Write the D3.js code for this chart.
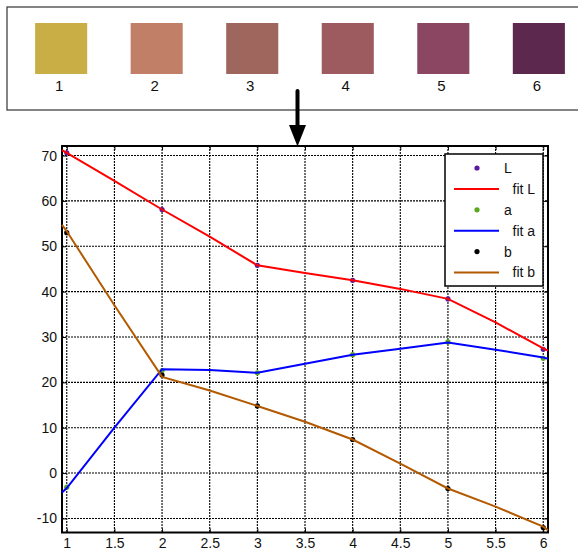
<!DOCTYPE html>
<html>
<head>
<meta charset="utf-8">
<script src="https://d3js.org/d3.v7.min.js"></script>
<style>
  body { margin: 0; background: #fff; }
  text { font-family: "Liberation Sans", Arial, sans-serif; fill: #111; }
</style>
</head>
<body>
<div id="chart"></div>
<script>
// colour swatches on top
var swatchLabels = ["1", "2", "3", "4", "5", "6"];
var swatchColors = ["#c8ae45", "#c27f68", "#9e665c", "#9d5b60", "#8b4662", "#5c284d"];

// measured points
var xVals = [1, 2, 3, 4, 5, 6];
var lVals = [70.6, 58.1, 45.8, 42.5, 38.4, 27.3];
var aVals = [-3.1, 22.6, 22.1, 26.1, 28.9, 25.3];
var bVals = [53.0, 21.6, 14.8, 7.4, -3.4, -12.0];

var fitX = [0.95, 1, 1.5, 2, 2.5, 3, 3.5, 4, 4.5, 5, 5.5, 6, 6.05];
var fitL = [71.2, 70.6, 64.4, 58.1, 52.1, 45.8, 44.1, 42.5, 40.6, 38.4, 33.2, 27.5, 27.0];
var fitA = [-4.3, -3.3, 10.0, 22.9, 22.7, 22.1, 24.1, 26.1, 27.4, 28.8, 27.2, 25.5, 25.2];
var fitB = [54.7, 53.3, 37.0, 21.2, 18.2, 14.8, 11.3, 7.4, 2.1, -3.4, -7.4, -11.8, -12.6];

var xTicks = [1, 1.5, 2, 2.5, 3, 3.5, 4, 4.5, 5, 5.5, 6];
var yTicks = [-10, 0, 10, 20, 30, 40, 50, 60, 70];

var W = 578, H = 553;
var svg = d3.select("#chart").append("svg")
    .attr("width", W).attr("height", H);

svg.append("rect").attr("width", W).attr("height", H).attr("fill", "#fff");

// top panel
svg.append("rect")
    .attr("x", 7).attr("y", 7).attr("width", 640).attr("height", 103)
    .attr("fill", "#fff").attr("stroke", "#333").attr("stroke-width", 1.2);

var sx = d3.scaleBand().domain(swatchLabels).range([16, 584]).paddingInner(0.455).paddingOuter(0.2);
svg.selectAll(".sw").data(swatchLabels).join("rect")
    .attr("class", "sw")
    .attr("x", d => sx(d))
    .attr("y", 23)
    .attr("width", sx.bandwidth())
    .attr("height", 51)
    .attr("fill", (d, i) => swatchColors[i]);
svg.selectAll(".swl").data(swatchLabels).join("text")
    .attr("class", "swl")
    .attr("x", d => sx(d) + sx.bandwidth() / 2 - 2)
    .attr("y", 86)
    .attr("dy", "0.35em")
    .attr("text-anchor", "middle")
    .attr("font-size", "15px")
    .text(d => d);

// plot area
var pLeft = 62, pRight = 548, pTop = 146, pBottom = 532.5;
var x = d3.scaleLinear().domain([0.95, 6.05]).range([pLeft, pRight]);
var y = d3.scaleLinear().domain([-13.1, 72.1]).range([pBottom, pTop]);

// grid
var grid = svg.append("g");
grid.selectAll(".gx").data(xTicks).join("line")
    .attr("x1", d => x(d)).attr("x2", d => x(d))
    .attr("y1", pTop).attr("y2", pBottom)
    .attr("stroke", "#000").attr("stroke-dasharray", "2,1").attr("stroke-width", 1.1);
grid.selectAll(".gy").data(yTicks).join("line")
    .attr("y1", d => y(d)).attr("y2", d => y(d))
    .attr("x1", pLeft).attr("x2", pRight)
    .attr("stroke", "#000").attr("stroke-dasharray", "2,1").attr("stroke-width", 1.1);

// axes, ticks point inward
var fmt = d => String(d);
var axB = svg.append("g").attr("transform", "translate(0," + pBottom + ")")
    .call(d3.axisBottom(x).tickValues(xTicks).tickSizeInner(-4).tickSizeOuter(0).tickPadding(7).tickFormat(fmt));
var axT = svg.append("g").attr("transform", "translate(0," + pTop + ")")
    .call(d3.axisTop(x).tickValues(xTicks).tickSizeInner(-4).tickSizeOuter(0).tickFormat(""));
var axL = svg.append("g").attr("transform", "translate(" + pLeft + ",0)")
    .call(d3.axisLeft(y).tickValues(yTicks).tickSizeInner(-4).tickSizeOuter(0).tickPadding(5).tickFormat(fmt));
var axR = svg.append("g").attr("transform", "translate(" + pRight + ",0)")
    .call(d3.axisRight(y).tickValues(yTicks).tickSizeInner(-4).tickSizeOuter(0).tickFormat(""));
[axB, axT, axL, axR].forEach(function (a) {
    a.select(".domain").remove();
    a.selectAll(".tick line").attr("stroke", "#000");
    a.selectAll("text").attr("font-size", "14px").attr("fill", "#111")
        .attr("font-family", "Liberation Sans, Arial, sans-serif");
});
axB.selectAll("text").attr("dy", "0.6em");

svg.append("rect")
    .attr("x", pLeft).attr("y", pTop).attr("width", pRight - pLeft).attr("height", pBottom - pTop)
    .attr("fill", "none").attr("stroke", "#000").attr("stroke-width", 2);

// series
var line = d3.line().x(d => x(d[0])).y(d => y(d[1]));
var series = [
    { pts: lVals, fit: fitL, dot: "#5a1aa0", col: "#ff0000" },
    { pts: aVals, fit: fitA, dot: "#5aa81e", col: "#0000ff" },
    { pts: bVals, fit: fitB, dot: "#000000", col: "#b35900" }
];
series.forEach(function (s) {
    svg.append("g").selectAll("circle").data(xVals).join("circle")
        .attr("cx", d => x(d))
        .attr("cy", (d, i) => y(s.pts[i]))
        .attr("r", 2.6)
        .attr("fill", s.dot);
    svg.append("path")
        .datum(fitX.map((d, i) => [d, s.fit[i]]))
        .attr("d", line)
        .attr("fill", "none")
        .attr("stroke", s.col)
        .attr("stroke-width", 2);
});

// legend
var lg = svg.append("g");
lg.append("rect").attr("x", 445).attr("y", 154).attr("width", 98).attr("height", 132)
    .attr("fill", "#fff").attr("stroke", "#000").attr("stroke-width", 1.5);
var legendItems = [
    { t: "L", kind: "dot", c: "#5a1aa0" },
    { t: "fit L", kind: "line", c: "#ff0000" },
    { t: "a", kind: "dot", c: "#5aa81e" },
    { t: "fit a", kind: "line", c: "#0000ff" },
    { t: "b", kind: "dot", c: "#000000" },
    { t: "fit b", kind: "line", c: "#b35900" }
];
legendItems.forEach(function (d, i) {
    var yy = 168 + i * 20.9;
    if (d.kind === "dot") {
        lg.append("circle").attr("cx", 477).attr("cy", yy).attr("r", 2.6).attr("fill", d.c);
    } else {
        lg.append("line").attr("x1", 454).attr("x2", 499).attr("y1", yy).attr("y2", yy)
            .attr("stroke", d.c).attr("stroke-width", 2);
    }
    lg.append("text").attr("x", d.kind === "dot" ? 504 : 512.5).attr("y", yy)
        .attr("dy", "0.35em").attr("font-size", "14px").text(d.t);
});

// arrow from the swatches down to the plot
svg.append("line").attr("x1", 297.5).attr("x2", 297.5).attr("y1", 91).attr("y2", 128)
    .attr("stroke", "#000").attr("stroke-width", 4).attr("stroke-linecap", "round");
svg.append("path")
    .attr("d", d3.line()([[289, 125], [306, 125], [297.5, 146.5]]) + "Z")
    .attr("fill", "#000");
</script>
</body>
</html>
